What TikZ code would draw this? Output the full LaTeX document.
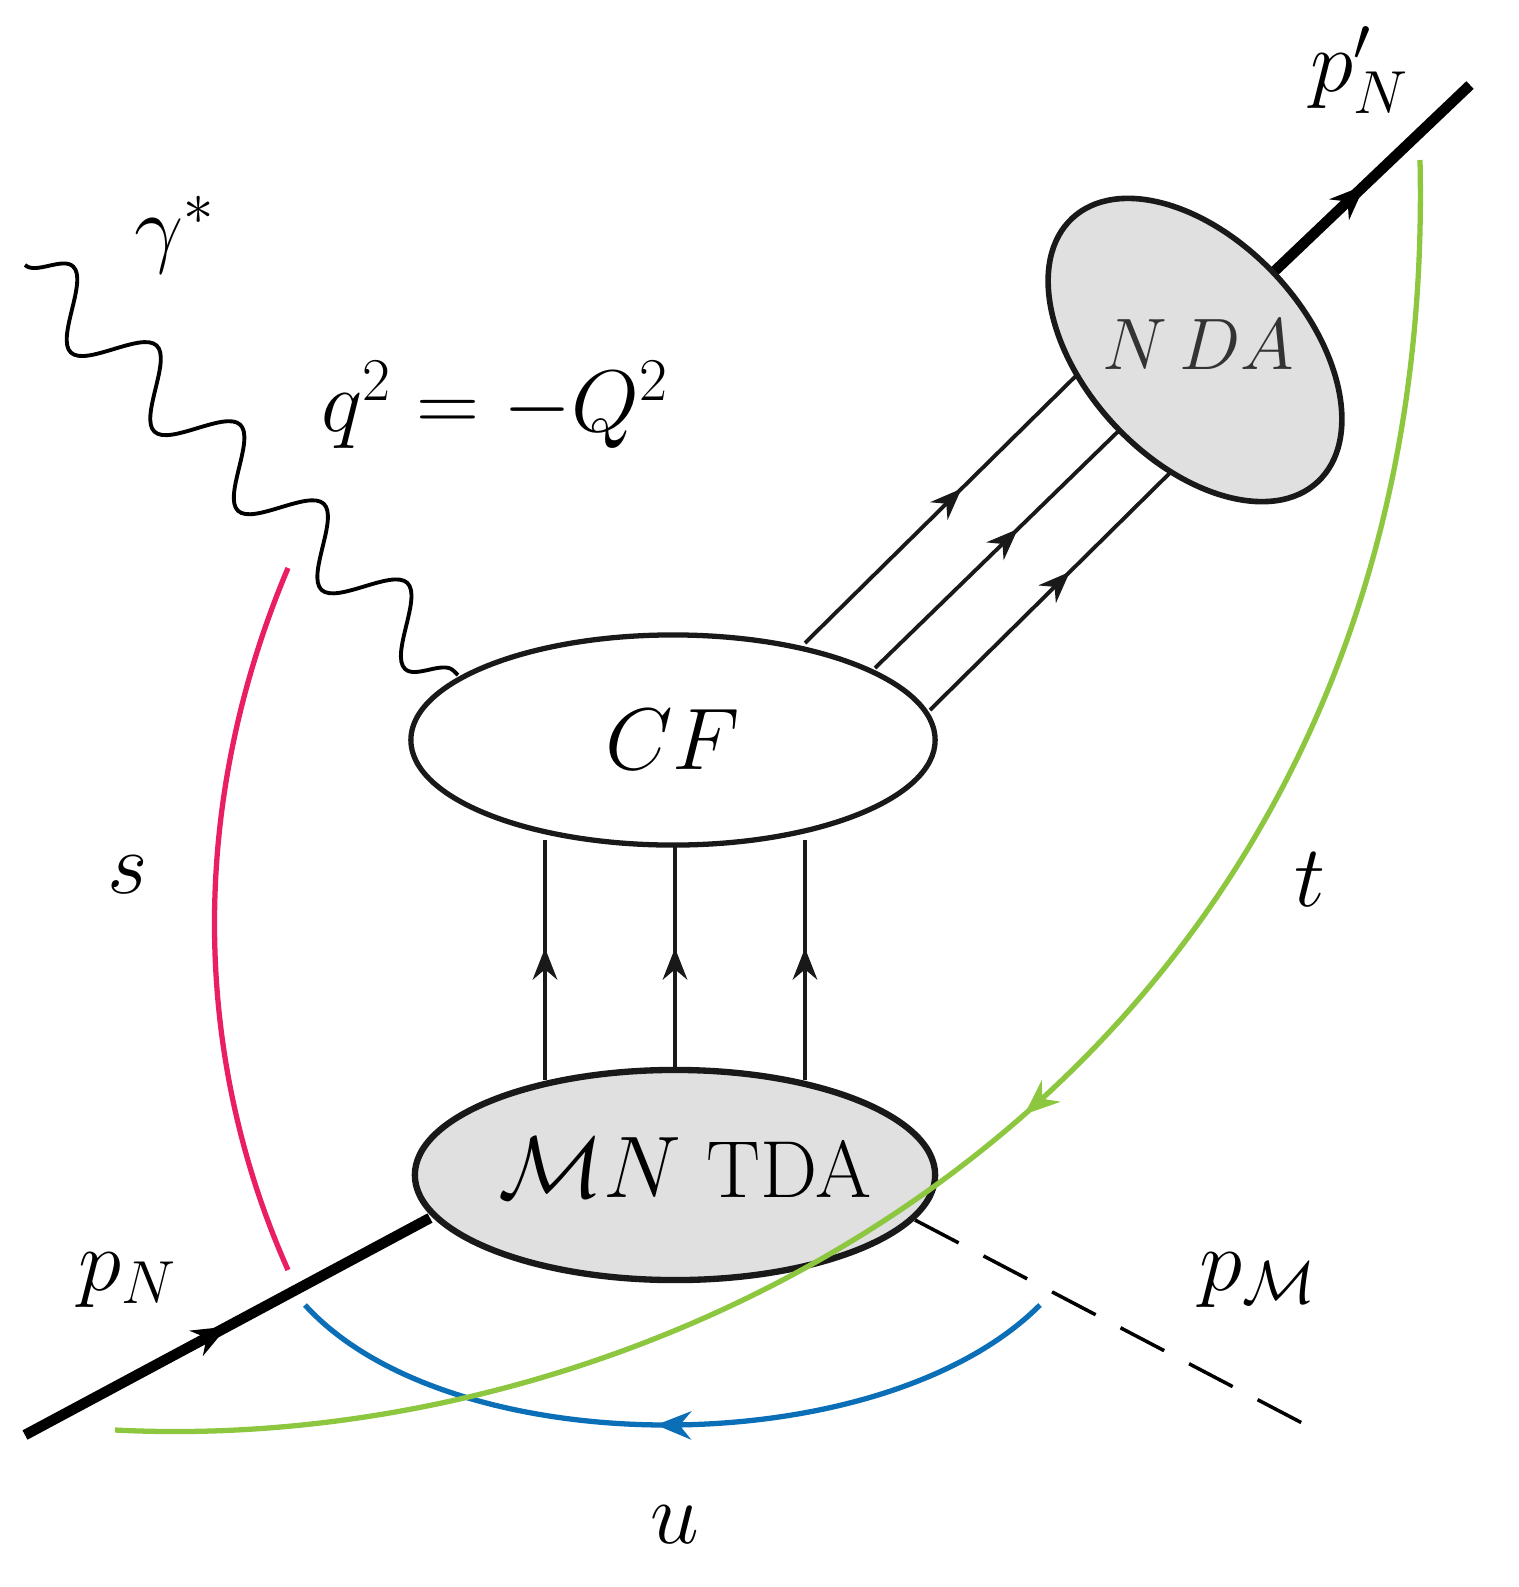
\documentclass[tikz,border=0pt]{standalone}
\usetikzlibrary{shapes.geometric,decorations.pathmorphing,decorations.markings,arrows.meta}
\definecolor{pinkc}{HTML}{E91E63}
\definecolor{bluec}{HTML}{0B6FB8}
\definecolor{greenc}{HTML}{8DC63F}
\definecolor{grayf}{HTML}{E0E0E0}
\begin{document}
\begin{tikzpicture}[x=0.01cm,y=-0.01cm,
  lbl/.style={font=\fontsize{23}{27}\selectfont},
  blob/.style={draw=black!90,ellipse,line width=1.5pt},
  quark/.style={line width=1.1pt,draw=black!90,postaction={decorate},decoration={markings,mark=at position #1 with {\arrow{Stealth[length=9pt,width=7pt]}}}},
  curvearrow/.style={line width=1.5pt,postaction={decorate},decoration={markings,mark=at position #1 with {\arrow{Stealth[length=10pt,width=8pt]}}}}]
\useasboundingbox (0,0) rectangle (1519,1587);
% proton lines
\coordinate (pin) at (25,1435);
\coordinate (pout) at (1470,85);
\coordinate (pm) at (1325,1435);
\coordinate (nda) at (1195,350);
\coordinate (tda) at (675,1175);
\draw[line width=3pt,postaction={decorate},decoration={markings,mark=at position 0.5 with {\arrow{Stealth[length=10pt,width=8pt]}}}] (pin) -- (430,1218);
\draw[line width=3pt,postaction={decorate},decoration={markings,mark=at position 0.5 with {\arrow{Stealth[length=10pt,width=8pt]}}}] (1260,285) -- (pout);
\draw[line width=1pt,dash pattern=on 14pt off 8pt] (915,1220) -- (pm);
% quark lines
\foreach \x in {545,675,805} \draw[quark=0.55] (\x,1080) -- (\x,840);
\coordinate (a1) at (805,643); \coordinate (b1) at (1090,362);
\coordinate (a2) at (875,668); \coordinate (b2) at (1135,415);
\coordinate (a3) at (930,710); \coordinate (b3) at (1185,458);
\draw[quark=0.55] (a1) -- (b1);
\draw[quark=0.55] (a2) -- (b2);
\draw[quark=0.55] (a3) -- (b3);
% photon
\coordinate (g0) at (25,265);
\coordinate (g1) at (458,675);
\draw[line width=1.1pt,decorate,decoration={snake,segment length=1.15cm,amplitude=0.32cm}] (g0) -- (g1);
% blobs
\node[blob,fill=white,inner sep=0pt,minimum width=5.24cm,minimum height=2.1cm] (cf) at (673,740) {};
\node[lbl] at (cf) {$CF$};
\node[blob,fill=grayf,line width=1.8pt,inner sep=0pt,minimum width=5.2cm,minimum height=2.1cm] (tdan) at (tda) {};
\node[lbl] at (685,1168) {$\mathcal{M}N$ TDA};
\node[blob,fill=grayf,line width=1.6pt,inner sep=0pt,minimum width=3.6cm,minimum height=2.2cm,rotate=-47] (ndan) at (nda) {};
\node[font=\fontsize{20}{24}\selectfont,text=black!80] at (1198,345) {$N\,DA$};
% kinematic curves
\draw[pinkc,line width=1.5pt] (288,568) .. controls (190,800) and (190,1050) .. (288,1270);
\draw[bluec,curvearrow=0.52] (1040,1305) .. controls (880,1465) and (450,1465) .. (305,1305);
\draw[greenc,curvearrow=0.52] (1420,160) .. controls (1440,1050) and (700,1460) .. (115,1430);
% labels
\node[lbl] at (175,235) {$\gamma^*$};
\node[lbl] at (495,405) {$q^2=-Q^2$};
\node[lbl] at (1360,70) {$p'_N$};
\node[lbl] at (128,875) {$s$};
\node[lbl] at (1310,880) {$t$};
\node[lbl] at (128,1280) {$p_N$};
\node[lbl] at (1258,1280) {$p_{\mathcal{M}}$};
\node[lbl] at (675,1525) {$u$};
\end{tikzpicture}
\end{document}
